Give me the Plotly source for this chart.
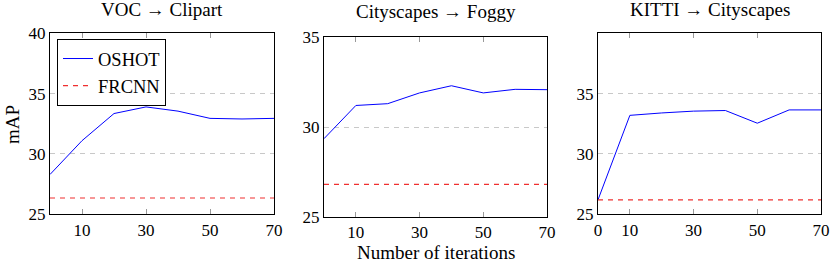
import plotly.graph_objects as go

iters = [0, 10, 20, 30, 40, 50, 60, 70]
titles = ["VOC → Clipart", "Cityscapes → Foggy", "KITTI → Cityscapes"]
oshot_voc = [28.3, 31.1, 33.35, 33.9, 33.55, 32.95, 32.9, 32.95]
oshot_city = [29.35, 31.2, 31.3, 31.9, 32.3, 31.9, 32.1, 32.08]
oshot_kitti = [26.2, 33.2, 33.4, 33.55, 33.6, 32.55, 33.65, 33.65]
frcnn_voc = 26.35
frcnn_city = 26.8
frcnn_kitti = 26.2
y_ranges = [[25, 40], [25, 35], [25, 40]]
y_ticks = [[25, 30, 35, 40], [25, 30, 35], [25, 30, 35]]
x_ticks = [[10, 30, 50, 70], [10, 30, 50, 70], [0, 10, 30, 50, 70]]

W, H = 830, 262
FONT = '"Liberation Serif", "DejaVu Serif", serif'

fig = go.Figure()
series = [oshot_voc, oshot_city, oshot_kitti]
frcnn = [frcnn_voc, frcnn_city, frcnn_kitti]
# pixel boxes (left, right, top, bottom)
boxes = [(50, 274, 33.3, 214.3), (324, 547, 37.3, 216.7), (598, 821, 33.3, 214.3)]

for i in range(3):
    sfx = "" if i == 0 else str(i + 1)
    fig.add_trace(go.Scatter(x=iters, y=series[i], mode="lines",
                             line=dict(color="#0000ff", width=1),
                             name="OSHOT", showlegend=(i == 0),
                             xaxis="x" + sfx, yaxis="y" + sfx))
    fig.add_trace(go.Scatter(x=[iters[0], iters[-1]], y=[frcnn[i], frcnn[i]], mode="lines",
                             line=dict(color="#f03030", width=1.2, dash="5px,5px"),
                             name="FRCNN", showlegend=(i == 0),
                             xaxis="x" + sfx, yaxis="y" + sfx))

layout = dict(width=W, height=H,
              margin=dict(l=0, r=0, t=0, b=0, pad=0, autoexpand=False),
              paper_bgcolor="white", plot_bgcolor="white",
              font=dict(family=FONT, size=17, color="black"),
              legend=dict(x=57 / W, y=1 - 39 / H, xanchor="left", yanchor="top",
                          bordercolor="black", borderwidth=1, bgcolor="white",
                          font=dict(size=18.5), itemwidth=30, tracegroupgap=0))

annotations = []
for i, (l, r, t, b) in enumerate(boxes):
    sfx = "" if i == 0 else str(i + 1)
    xa = dict(domain=[l / W, r / W], range=[0, 70], tickvals=x_ticks[i],
              ticks="inside", ticklen=5, tickcolor="#999999", mirror="ticks",
              showline=True, linecolor="black", linewidth=1, showgrid=False,
              zeroline=False, anchor="y" + sfx, tickfont=dict(size=17),
              automargin=False)
    ya = dict(domain=[1 - b / H, 1 - t / H], range=y_ranges[i], tickvals=y_ticks[i],
              ticks="", mirror=True,
              showline=True, linecolor="black", linewidth=1, showgrid=True,
              gridcolor="#c8c8c8", griddash="5px,5px", gridwidth=1,
              zeroline=False, anchor="x" + sfx, tickfont=dict(size=17),
              automargin=False)
    layout["xaxis" + sfx] = xa
    layout["yaxis" + sfx] = ya
    ty = [9.5, 12, 9.5][i]
    annotations.append(dict(text=titles[i], x=(l + r) / 2 / W, y=1 - ty / H,
                            xref="paper", yref="paper", showarrow=False,
                            xanchor="center", yanchor="middle", font=dict(size=19)))

annotations.append(dict(text="Number of iterations", x=436 / W, y=1 - 252 / H,
                        xref="paper", yref="paper", showarrow=False,
                        xanchor="center", yanchor="middle", font=dict(size=19)))
annotations.append(dict(text="mAP", x=12 / W, y=1 - 125 / H, textangle=-90,
                        xref="paper", yref="paper", showarrow=False,
                        xanchor="center", yanchor="middle", font=dict(size=19)))
layout["annotations"] = annotations
fig.update_layout(**layout)
fig.write_html("out.html", config={"displayModeBar": False},
               post_script="document.body.style.margin='0';document.body.style.overflow='hidden';")
